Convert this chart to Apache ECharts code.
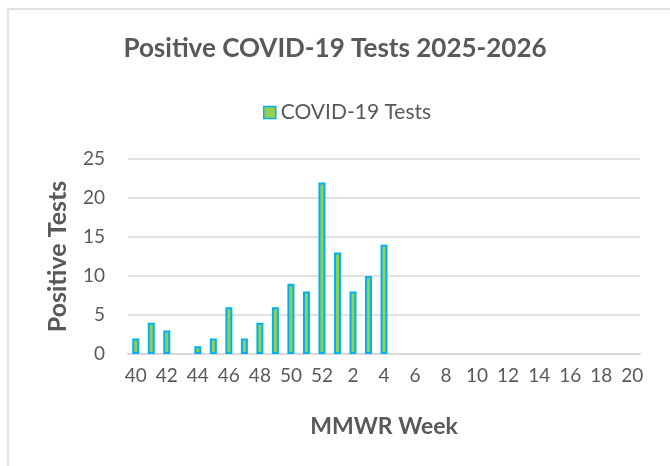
<!DOCTYPE html>
<html>
<head>
<meta charset="utf-8">
<script src="https://cdn.jsdelivr.net/npm/echarts@6/dist/echarts.min.js"></script>
<style>
html,body{margin:0;padding:0;background:#fff;}
#chart{width:670px;height:466px;}
</style>
</head>
<body>
<div id="chart"></div>
<script>
var weeks = ['40','41','42','43','44','45','46','47','48','49','50','51','52','1','2','3','4','5','6','7','8','9','10','11','12','13','14','15','16','17','18','19','20'];
var covidTests = [2,4,3,0,1,2,6,2,4,6,9,8,22,13,8,10,14,null,null,null,null,null,null,null,null,null,null,null,null,null,null,null,null];
var yTicks = [0,5,10,15,20,25];

var FONT = 'Lato';
var seriesData = covidTests.map(function(v){
  return v === 0 ? {value:0, itemStyle:{borderWidth:0}} : v;
});
var chart = echarts.init(document.getElementById('chart'), null, {renderer:'canvas'});
chart.setOption({
  animation:false,
  backgroundColor:'#ffffff',
  graphic:[{type:'rect',shape:{x:8,y:9,width:700,height:500},style:{fill:'none',stroke:'#d9d9d9',lineWidth:1.5},silent:true,z:-1}],
  title:{text:'Positive COVID-19 Tests 2025-2026',left:'center',top:31,
    textStyle:{fontFamily:FONT,fontSize:26,fontWeight:'bold',color:'#595959'}},
  legend:{top:97,left:258,itemWidth:12,itemHeight:12,itemGap:8,
    textStyle:{fontFamily:FONT,fontSize:21,color:'#595959'},
    data:[{name:'COVID-19 Tests',icon:'rect',itemStyle:{color:'#92D050',borderColor:'#00B0F0',borderWidth:1.5}}]},
  grid:{left:128,right:30,top:159,bottom:112,containLabel:false},
  xAxis:{type:'category',data:weeks,
    axisLine:{lineStyle:{color:'#d9d9d9',width:2}},axisTick:{show:false},
    axisLabel:{interval:1,fontFamily:FONT,fontSize:19,color:'#595959',margin:12},
    name:'MMWR Week',nameLocation:'middle',nameGap:61,
    nameTextStyle:{fontFamily:FONT,fontSize:23,fontWeight:'bold',color:'#595959'}},
  yAxis:{type:'value',min:yTicks[0],max:yTicks[yTicks.length-1],interval:5,
    axisLine:{show:false},axisTick:{show:false},
    splitLine:{lineStyle:{color:'#d9d9d9',width:1.5}},
    axisLabel:{fontFamily:FONT,fontSize:19,color:'#595959',margin:23},
    name:'Positive Tests',nameLocation:'middle',nameGap:58,nameRotate:90,
    nameTextStyle:{fontFamily:FONT,fontSize:25,fontWeight:'bold',color:'#595959'}},
  series:[{name:'COVID-19 Tests',type:'bar',data:seriesData,barWidth:7,
    itemStyle:{color:'#92D050',borderColor:'#00B0F0',borderWidth:2}}]
});
</script>
</body>
</html>
